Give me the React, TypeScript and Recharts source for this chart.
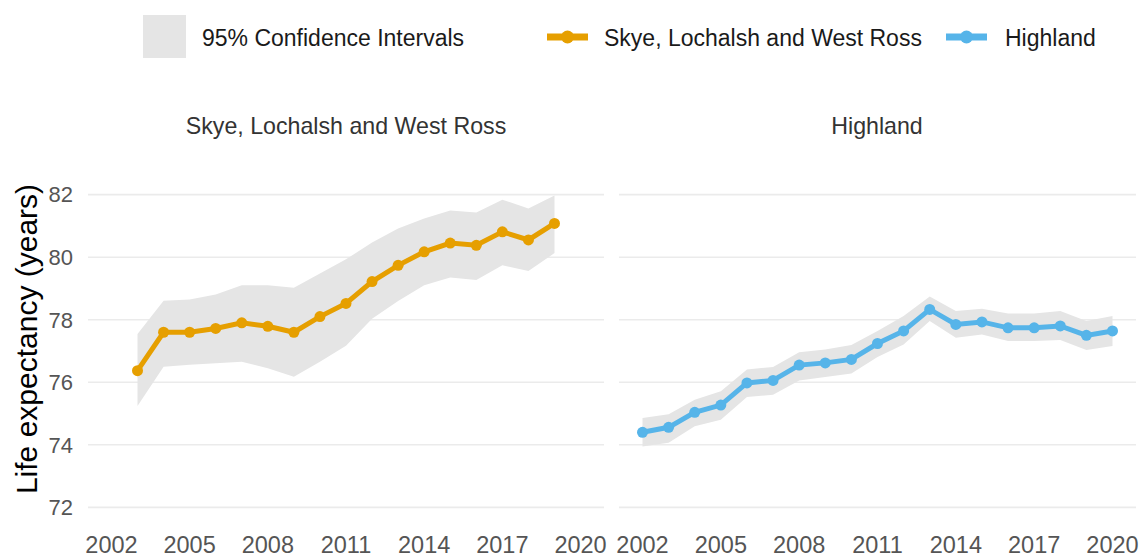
import React from 'react';
import { ComposedChart, Line, Area, XAxis, YAxis, CartesianGrid } from 'recharts';

// Skye, Lochalsh and West Ross
const skyeYears = [2003, 2004, 2005, 2006, 2007, 2008, 2009, 2010, 2011, 2012, 2013, 2014, 2015, 2016, 2017, 2018, 2019];
const skyeLE = [76.37, 77.6, 77.6, 77.72, 77.9, 77.79, 77.6, 78.1, 78.52, 79.22, 79.74, 80.17, 80.45, 80.38, 80.81, 80.55, 81.08];
const skyeLower = [75.24, 76.5, 76.56, 76.61, 76.66, 76.45, 76.18, 76.66, 77.17, 78.03, 78.6, 79.1, 79.35, 79.27, 79.74, 79.56, 80.13];
const skyeUpper = [77.54, 78.61, 78.65, 78.81, 79.1, 79.1, 79.02, 79.48, 79.93, 80.47, 80.92, 81.24, 81.49, 81.43, 81.84, 81.56, 81.97];

// Highland
const highYears = [2002, 2003, 2004, 2005, 2006, 2007, 2008, 2009, 2010, 2011, 2012, 2013, 2014, 2015, 2016, 2017, 2018, 2019, 2020];
const highLE = [74.4, 74.56, 75.04, 75.27, 75.98, 76.06, 76.55, 76.62, 76.73, 77.24, 77.64, 78.33, 77.85, 77.93, 77.74, 77.74, 77.8, 77.5, 77.64];
const highLower = [73.95, 74.07, 74.59, 74.8, 75.53, 75.6, 76.06, 76.17, 76.28, 76.81, 77.21, 77.96, 77.42, 77.53, 77.32, 77.32, 77.35, 77.03, 77.16];
const highUpper = [74.86, 74.98, 75.44, 75.71, 76.41, 76.49, 76.96, 77.05, 77.19, 77.64, 78.12, 78.74, 78.28, 78.35, 78.2, 78.2, 78.28, 77.96, 78.12];

const xTicks = [2002, 2005, 2008, 2011, 2014, 2017, 2020];
const yTicks = [72, 74, 76, 78, 80, 82];

const ORANGE = '#E69F00';
const BLUE = '#56B4E9';
const BAND = '#e5e5e5';
const FONT = '"Liberation Sans", Arial, sans-serif';

const toRows = (years: number[], le: number[], lo: number[], hi: number[]) =>
  years.map((year, i) => ({ year, le: le[i], ci: [lo[i], hi[i]] }));

const skyeData = toRows(skyeYears, skyeLE, skyeLower, skyeUpper);
const highData = toRows(highYears, highLE, highLower, highUpper);

const xTickStyle = { fontSize: 23.5, fill: '#555', fontFamily: FONT };
const yTickStyle = { fontSize: 22, fill: '#555', fontFamily: FONT };

function Panel({ data, color, showY, width, margin }: any) {
  return (
    <ComposedChart width={width} height={557} data={data} margin={margin}>
      <CartesianGrid vertical={false} syncWithTicks stroke="#ebebeb" strokeWidth={1.6} />
      <XAxis
        type="number"
        dataKey="year"
        domain={[2001.1, 2020.9]}
        ticks={xTicks}
        axisLine={false}
        tickLine={false}
        tickSize={0}
        tickMargin={13}
        height={34}
        tick={xTickStyle}
      />
      <YAxis
        type="number"
        domain={[71.5, 82.5]}
        ticks={yTicks}
        hide={!showY}
        width={88}
        axisLine={false}
        tickLine={false}
        tickSize={0}
        tickMargin={15}
        tick={yTickStyle}
        label={
          showY
            ? () => (
                <text
                  x={26}
                  y={339}
                  transform="rotate(-90 26 339)"
                  textAnchor="middle"
                  dominantBaseline="central"
                  fontSize={30}
                  fontFamily={FONT}
                  fill="#000"
                >
                  Life expectancy (years)
                </text>
              )
            : undefined
        }
      />
      <Area
        type="linear"
        dataKey="ci"
        fill={BAND}
        fillOpacity={1}
        stroke="none"
        isAnimationActive={false}
      />
      <Line
        type="linear"
        dataKey="le"
        stroke={color}
        strokeWidth={5}
        dot={{ r: 5.5, fill: color, stroke: color, strokeWidth: 0 }}
        isAnimationActive={false}
      />
    </ComposedChart>
  );
}

export default function App() {
  return (
    <div style={{ position: 'absolute', left: 0, top: 0, width: 1141, height: 557, background: '#fff', fontFamily: FONT }}>
      <div style={{ position: 'absolute', left: 0, top: 0 }}>
        <Panel data={skyeData} color={ORANGE} showY width={620} margin={{ top: 179, right: 16, bottom: 0, left: 0 }} />
      </div>
      <div style={{ position: 'absolute', left: 605, top: 0 }}>
        <Panel data={highData} color={BLUE} showY={false} width={536} margin={{ top: 179, right: 5, bottom: 0, left: 14 }} />
      </div>
      <svg width={1141} height={160} style={{ position: 'absolute', left: 0, top: 0, pointerEvents: 'none' }}>
        <g fontFamily={FONT} fontSize={23}>
          <rect x={143} y={15} width={43} height={43} fill={BAND} />
          <text x={202} y={45.5} fill="#1a1a1a">95% Confidence Intervals</text>
          <line x1={547} x2={588} y1={37} y2={37} stroke={ORANGE} strokeWidth={7} />
          <circle cx={567.5} cy={37} r={6.5} fill={ORANGE} />
          <text x={604} y={45.5} fill="#1a1a1a">Skye, Lochalsh and West Ross</text>
          <line x1={946} x2={987} y1={37} y2={37} stroke={BLUE} strokeWidth={7} />
          <circle cx={966.5} cy={37} r={6.5} fill={BLUE} />
          <text x={1005} y={45.5} fill="#1a1a1a">Highland</text>
          <text x={346} y={134} textAnchor="middle" fontSize={23.2} fill="#333">Skye, Lochalsh and West Ross</text>
          <text x={877} y={134} textAnchor="middle" fontSize={23.2} fill="#333">Highland</text>
        </g>
      </svg>
    </div>
  );
}
